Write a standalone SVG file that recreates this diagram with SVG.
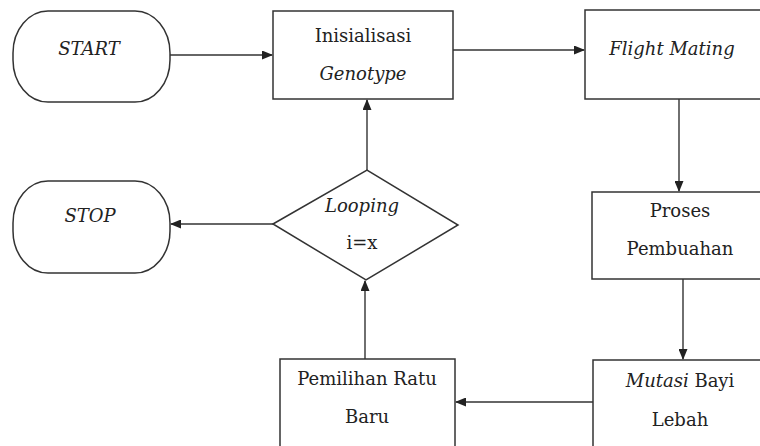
<svg xmlns="http://www.w3.org/2000/svg" width="760" height="446" viewBox="0 0 760 446">
<defs>
<style>
.shape{fill:#fff;stroke:#333;stroke-width:1.5}
.edge{fill:none;stroke:#333;stroke-width:1.4}
.t{font-family:'DejaVu Serif','Liberation Serif',serif;font-size:18px;fill:#222;text-anchor:middle}
.it{font-style:italic}
</style>
<marker id="arr" markerUnits="userSpaceOnUse" markerWidth="11" markerHeight="9" refX="10" refY="4.5" orient="auto">
<path d="M0,0 L11,4.5 L0,9 z" fill="#222"/>
</marker>
</defs>
<rect width="760" height="446" fill="#fff"/>
<g id="connectors">
<line class="edge" x1="170" y1="55" x2="272" y2="55" marker-end="url(#arr)"/>
<line class="edge" x1="453" y1="50" x2="584" y2="50" marker-end="url(#arr)"/>
<line class="edge" x1="679" y1="99" x2="679" y2="191" marker-end="url(#arr)"/>
<line class="edge" x1="683" y1="279" x2="683" y2="359" marker-end="url(#arr)"/>
<line class="edge" x1="593" y1="402" x2="456" y2="402" marker-end="url(#arr)"/>
<line class="edge" x1="365" y1="359" x2="365" y2="281" marker-end="url(#arr)"/>
<line class="edge" x1="367" y1="170" x2="367" y2="100" marker-end="url(#arr)"/>
<line class="edge" x1="273" y1="224" x2="171" y2="224" marker-end="url(#arr)"/>
</g>
<g id="start">
<path class="shape" d="M48,11 H135 A35,42 0 0 1 170,53 V60 A35,42 0 0 1 135,102 H48 A35,42 0 0 1 13,60 V53 A35,42 0 0 1 48,11 Z"/>
<text class="t it" x="89" y="55">START</text>
</g>
<g id="init">
<rect class="shape" x="273" y="11" width="180" height="88"/>
<text class="t" x="363" y="42">Inisialisasi</text>
<text class="t it" x="363" y="80">Genotype</text>
</g>
<g id="flight">
<rect class="shape" x="585" y="10" width="200" height="89"/>
<text class="t it" x="672" y="55">Flight Mating</text>
</g>
<g id="proses">
<rect class="shape" x="592" y="192" width="200" height="87"/>
<text class="t" x="680" y="217">Proses</text>
<text class="t" x="680" y="255">Pembuahan</text>
</g>
<g id="mutasi">
<rect class="shape" x="593" y="360" width="200" height="100"/>
<text class="t" x="680" y="387"><tspan class="it">Mutasi</tspan> Bayi</text>
<text class="t" x="680" y="426">Lebah</text>
</g>
<g id="pemilihan">
<rect class="shape" x="280" y="359" width="175" height="100"/>
<text class="t" x="367" y="385">Pemilihan Ratu</text>
<text class="t" x="367" y="423">Baru</text>
</g>
<g id="looping">
<polygon class="shape" points="273,224 367,170 458,225 366,280"/>
<text class="t it" x="362" y="212">Looping</text>
<text class="t" x="362" y="249">i=x</text>
</g>
<g id="stop">
<path class="shape" d="M48,181 H135 A35,42 0 0 1 170,223 V231 A35,42 0 0 1 135,273 H48 A35,42 0 0 1 13,231 V223 A35,42 0 0 1 48,181 Z"/>
<text class="t it" x="90" y="222">STOP</text>
</g>
</svg>
